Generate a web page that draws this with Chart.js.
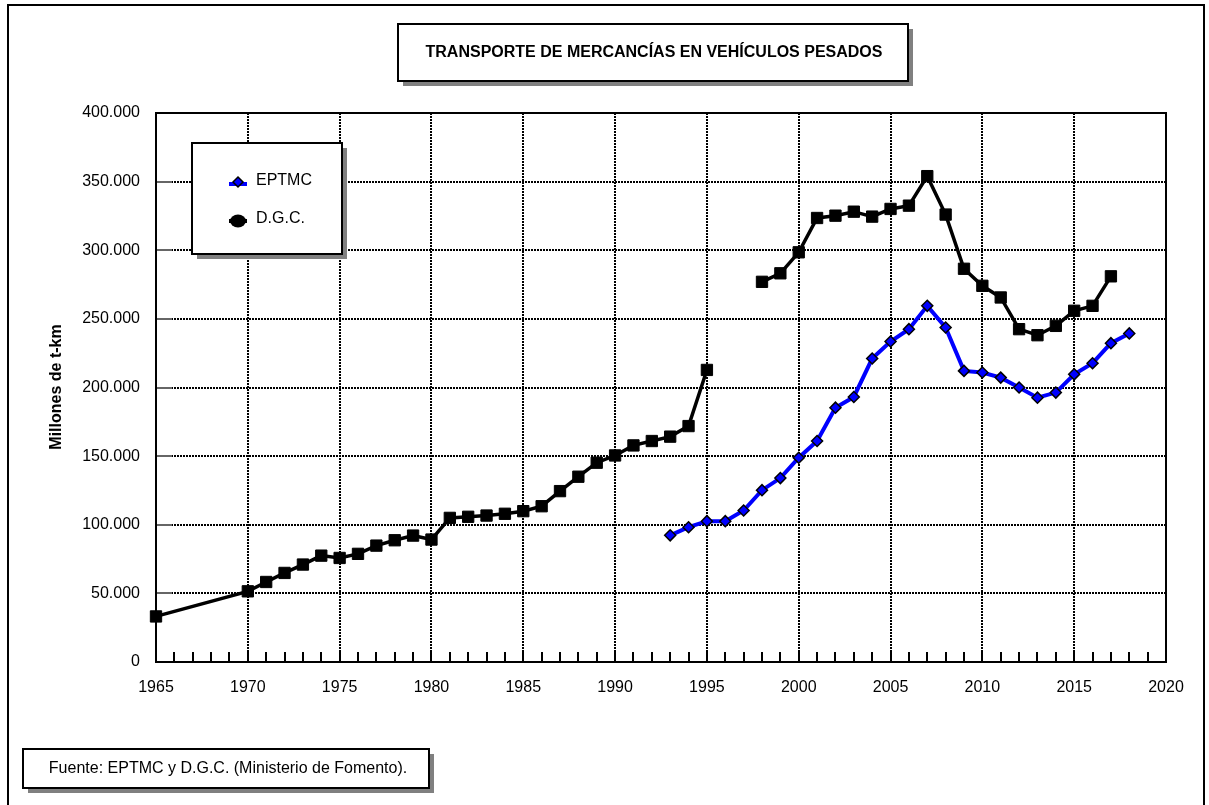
<!DOCTYPE html>
<html>
<head>
<meta charset="utf-8">
<title>Transporte de mercancías en vehículos pesados</title>
<script src="https://cdn.jsdelivr.net/npm/chart.js@4/dist/chart.umd.min.js"></script>
<style>
  html, body { margin: 0; padding: 0; background: #fff; }
  #wrap { position: relative; width: 1209px; height: 805px; }
</style>
</head>
<body>
<div id="wrap"><canvas id="c" width="1209" height="805"></canvas></div>
<script>
// Millones de t-km por año
const eptmcYears = [1993, 1994, 1995, 1996, 1997, 1998, 1999, 2000, 2001, 2002, 2003, 2004, 2005,
                    2006, 2007, 2008, 2009, 2010, 2011, 2012, 2013, 2014, 2015, 2016, 2017, 2018];
const eptmcValues = [92300, 98200, 102600, 102600, 110400, 125200, 134000, 148800, 161000, 185300, 193100, 221100, 233500,
                     242500, 259500, 243700, 212100, 210900, 207200, 200000, 192600, 196300, 209600, 217700, 232300, 239400];

const dgcYears = [1965, 1970, 1971, 1972, 1973, 1974, 1975, 1976, 1977, 1978, 1979, 1980, 1981, 1982, 1983,
                  1984, 1985, 1986, 1987, 1988, 1989, 1990, 1991, 1992, 1993, 1994, 1995, 1996, 1997, 1998,
                  1999, 2000, 2001, 2002, 2003, 2004, 2005, 2006, 2007, 2008, 2009, 2010, 2011, 2012, 2013,
                  2014, 2015, 2016, 2017];
const dgcValues = [33200, 51500, 58300, 64900, 71000, 77500, 75800, 78800, 84800, 88700, 92100, 89200, 105000, 105800, 106700,
                   108000, 109900, 113500, 124500, 135000, 145200, 150500, 157800, 161000, 164200, 171900, 212800, null, null, 277000,
                   283200, 298500, 323500, 325200, 328100, 324500, 330100, 332500, 354000, 326000, 286500, 274100, 265600, 242500, 238100,
                   244900, 255900, 259500, 281000];

const seriesNames = ['EPTMC', 'D.G.C.'];
const xTicksRange = { min: 1965, max: 2020, step: 5 };
const yTicksRange = { min: 0, max: 400000, step: 50000 };

const chartTitle = 'TRANSPORTE DE MERCANCÍAS EN VEHÍCULOS PESADOS';
const yAxisTitle = 'Millones de t-km';
const sourceNote = 'Fuente: EPTMC y D.G.C. (Ministerio de Fomento).';

const FONT = "'Liberation Sans', Arial, Helvetica, sans-serif";

function thousands(v) {
  return String(Math.round(v)).replace(/\B(?=(\d{3})+(?!\d))/g, '.');
}

function toPoints(xs, ys) {
  return xs.map((x, i) => ({ x: x, y: ys[i] }));
}

// Box with a grey drop shadow, white fill and black outline
function shadowBox(ctx, x, y, w, h) {
  ctx.save();
  ctx.fillStyle = '#808080';
  ctx.fillRect(x + 5, y + 5, w, h);
  ctx.fillStyle = '#ffffff';
  ctx.fillRect(x, y, w, h);
  ctx.strokeStyle = '#000';
  ctx.lineWidth = 2;
  ctx.strokeRect(x, y, w, h);
  ctx.restore();
}

const decor = {
  id: 'decor',
  beforeDraw(chart) {
    const ctx = chart.ctx;
    ctx.save();
    ctx.fillStyle = '#fff';
    ctx.fillRect(0, 0, chart.width, chart.height);
    // outer frame
    ctx.strokeStyle = '#000';
    ctx.lineWidth = 2;
    ctx.strokeRect(8, 5, 1196, 820);
    ctx.restore();
  },
  beforeDatasetsDraw(chart) {
    const ctx = chart.ctx;
    const a = chart.chartArea;
    const xs = chart.scales.x, ys = chart.scales.y;
    ctx.save();
    // yearly ticks along the bottom axis
    ctx.strokeStyle = '#000';
    ctx.lineWidth = 2;
    ctx.beginPath();
    for (let yr = xTicksRange.min; yr <= xTicksRange.max; yr++) {
      const px = Math.round(xs.getPixelForValue(yr));
      ctx.moveTo(px, a.bottom);
      ctx.lineTo(px, a.bottom - 10);
    }
    ctx.stroke();
    // short ticks on the value axis
    ctx.strokeStyle = '#666';
    ctx.beginPath();
    for (let v = yTicksRange.min; v <= yTicksRange.max; v += yTicksRange.step) {
      const py = Math.round(ys.getPixelForValue(v));
      ctx.moveTo(a.left, py);
      ctx.lineTo(a.left + 16, py);
    }
    ctx.stroke();
    // plot frame
    ctx.strokeStyle = '#000';
    ctx.lineWidth = 2;
    ctx.strokeRect(a.left, a.top, a.right - a.left, a.bottom - a.top);
    ctx.restore();
  },
  afterDraw(chart) {
    const ctx = chart.ctx;
    ctx.save();

    // title
    shadowBox(ctx, 398, 24, 510, 57);
    ctx.fillStyle = '#000';
    ctx.font = 'bold 16px ' + FONT;
    ctx.textAlign = 'center';
    ctx.textBaseline = 'middle';
    ctx.fillText(chartTitle, 654, 53);

    // legend
    shadowBox(ctx, 192, 143, 150, 111);
    // EPTMC sample
    ctx.strokeStyle = '#0000ff';
    ctx.lineWidth = 4;
    ctx.beginPath();
    ctx.moveTo(229, 184); ctx.lineTo(247, 184);
    ctx.stroke();
    ctx.beginPath();
    ctx.moveTo(238, 177); ctx.lineTo(243, 182); ctx.lineTo(238, 187); ctx.lineTo(233, 182); ctx.closePath();
    ctx.fillStyle = '#0000ff';
    ctx.fill();
    ctx.strokeStyle = '#000';
    ctx.lineWidth = 1.5;
    ctx.stroke();
    // D.G.C. sample
    ctx.strokeStyle = '#000';
    ctx.lineWidth = 4;
    ctx.beginPath();
    ctx.moveTo(229, 221); ctx.lineTo(247, 221);
    ctx.stroke();
    ctx.fillStyle = '#000';
    ctx.beginPath();
    ctx.ellipse(238, 221, 8, 6.5, 0, 0, Math.PI * 2);
    ctx.fill();

    ctx.fillStyle = '#000';
    ctx.font = '16px ' + FONT;
    ctx.textAlign = 'left';
    ctx.textBaseline = 'middle';
    ctx.fillText(seriesNames[0], 256, 181);
    ctx.fillText(seriesNames[1], 256, 219);

    // source note
    shadowBox(ctx, 23, 749, 406, 39);
    ctx.font = '16px ' + FONT;
    ctx.textAlign = 'center';
    ctx.fillText(sourceNote, 228, 769);

    // value axis title
    ctx.translate(57, 387);
    ctx.rotate(-Math.PI / 2);
    ctx.font = 'bold 16px ' + FONT;
    ctx.textAlign = 'center';
    ctx.textBaseline = 'middle';
    ctx.fillText(yAxisTitle, 0, 0);

    ctx.restore();
  }
};

new Chart(document.getElementById('c'), {
  type: 'line',
  data: {
    datasets: [
      {
        label: seriesNames[0],
        data: toPoints(eptmcYears, eptmcValues),
        borderColor: '#0000ff',
        borderWidth: 4,
        pointStyle: 'rectRot',
        pointRadius: 5.5,
        pointBackgroundColor: '#0000ff',
        pointBorderColor: '#000',
        pointBorderWidth: 1.5,
        tension: 0,
        spanGaps: false,
        clip: false
      },
      {
        label: seriesNames[1],
        data: toPoints(dgcYears, dgcValues),
        borderColor: '#000',
        borderWidth: 3.5,
        pointStyle: 'rect',
        pointRadius: 8,
        pointBackgroundColor: '#000',
        pointBorderColor: '#000',
        pointBorderWidth: 1,
        tension: 0,
        spanGaps: false,
        clip: false
      }
    ]
  },
  options: {
    responsive: false,
    animation: false,
    events: [],
    layout: { padding: { top: 113, right: 43, left: 0, bottom: 0 } },
    plugins: {
      legend: { display: false },
      title: { display: false },
      tooltip: { enabled: false }
    },
    scales: {
      x: {
        type: 'linear',
        min: xTicksRange.min,
        max: xTicksRange.max,
        afterFit(s) { s.height = 143; },
        ticks: {
          stepSize: xTicksRange.step,
          autoSkip: false,
          maxRotation: 0,
          padding: 16,
          color: '#000',
          font: { family: FONT, size: 16 },
          callback: v => String(v)
        },
        grid: { color: '#000', lineWidth: 2, drawTicks: false },
        border: { display: false, dash: [2, 1] }
      },
      y: {
        min: yTicksRange.min,
        max: yTicksRange.max,
        afterFit(s) { s.width = 156; },
        ticks: {
          stepSize: yTicksRange.step,
          padding: 16,
          color: '#000',
          font: { family: FONT, size: 16 },
          callback: v => thousands(v)
        },
        grid: { color: '#000', lineWidth: 2, drawTicks: false },
        border: { display: false, dash: [2, 1] }
      }
    }
  },
  plugins: [decor]
});
</script>
</body>
</html>
